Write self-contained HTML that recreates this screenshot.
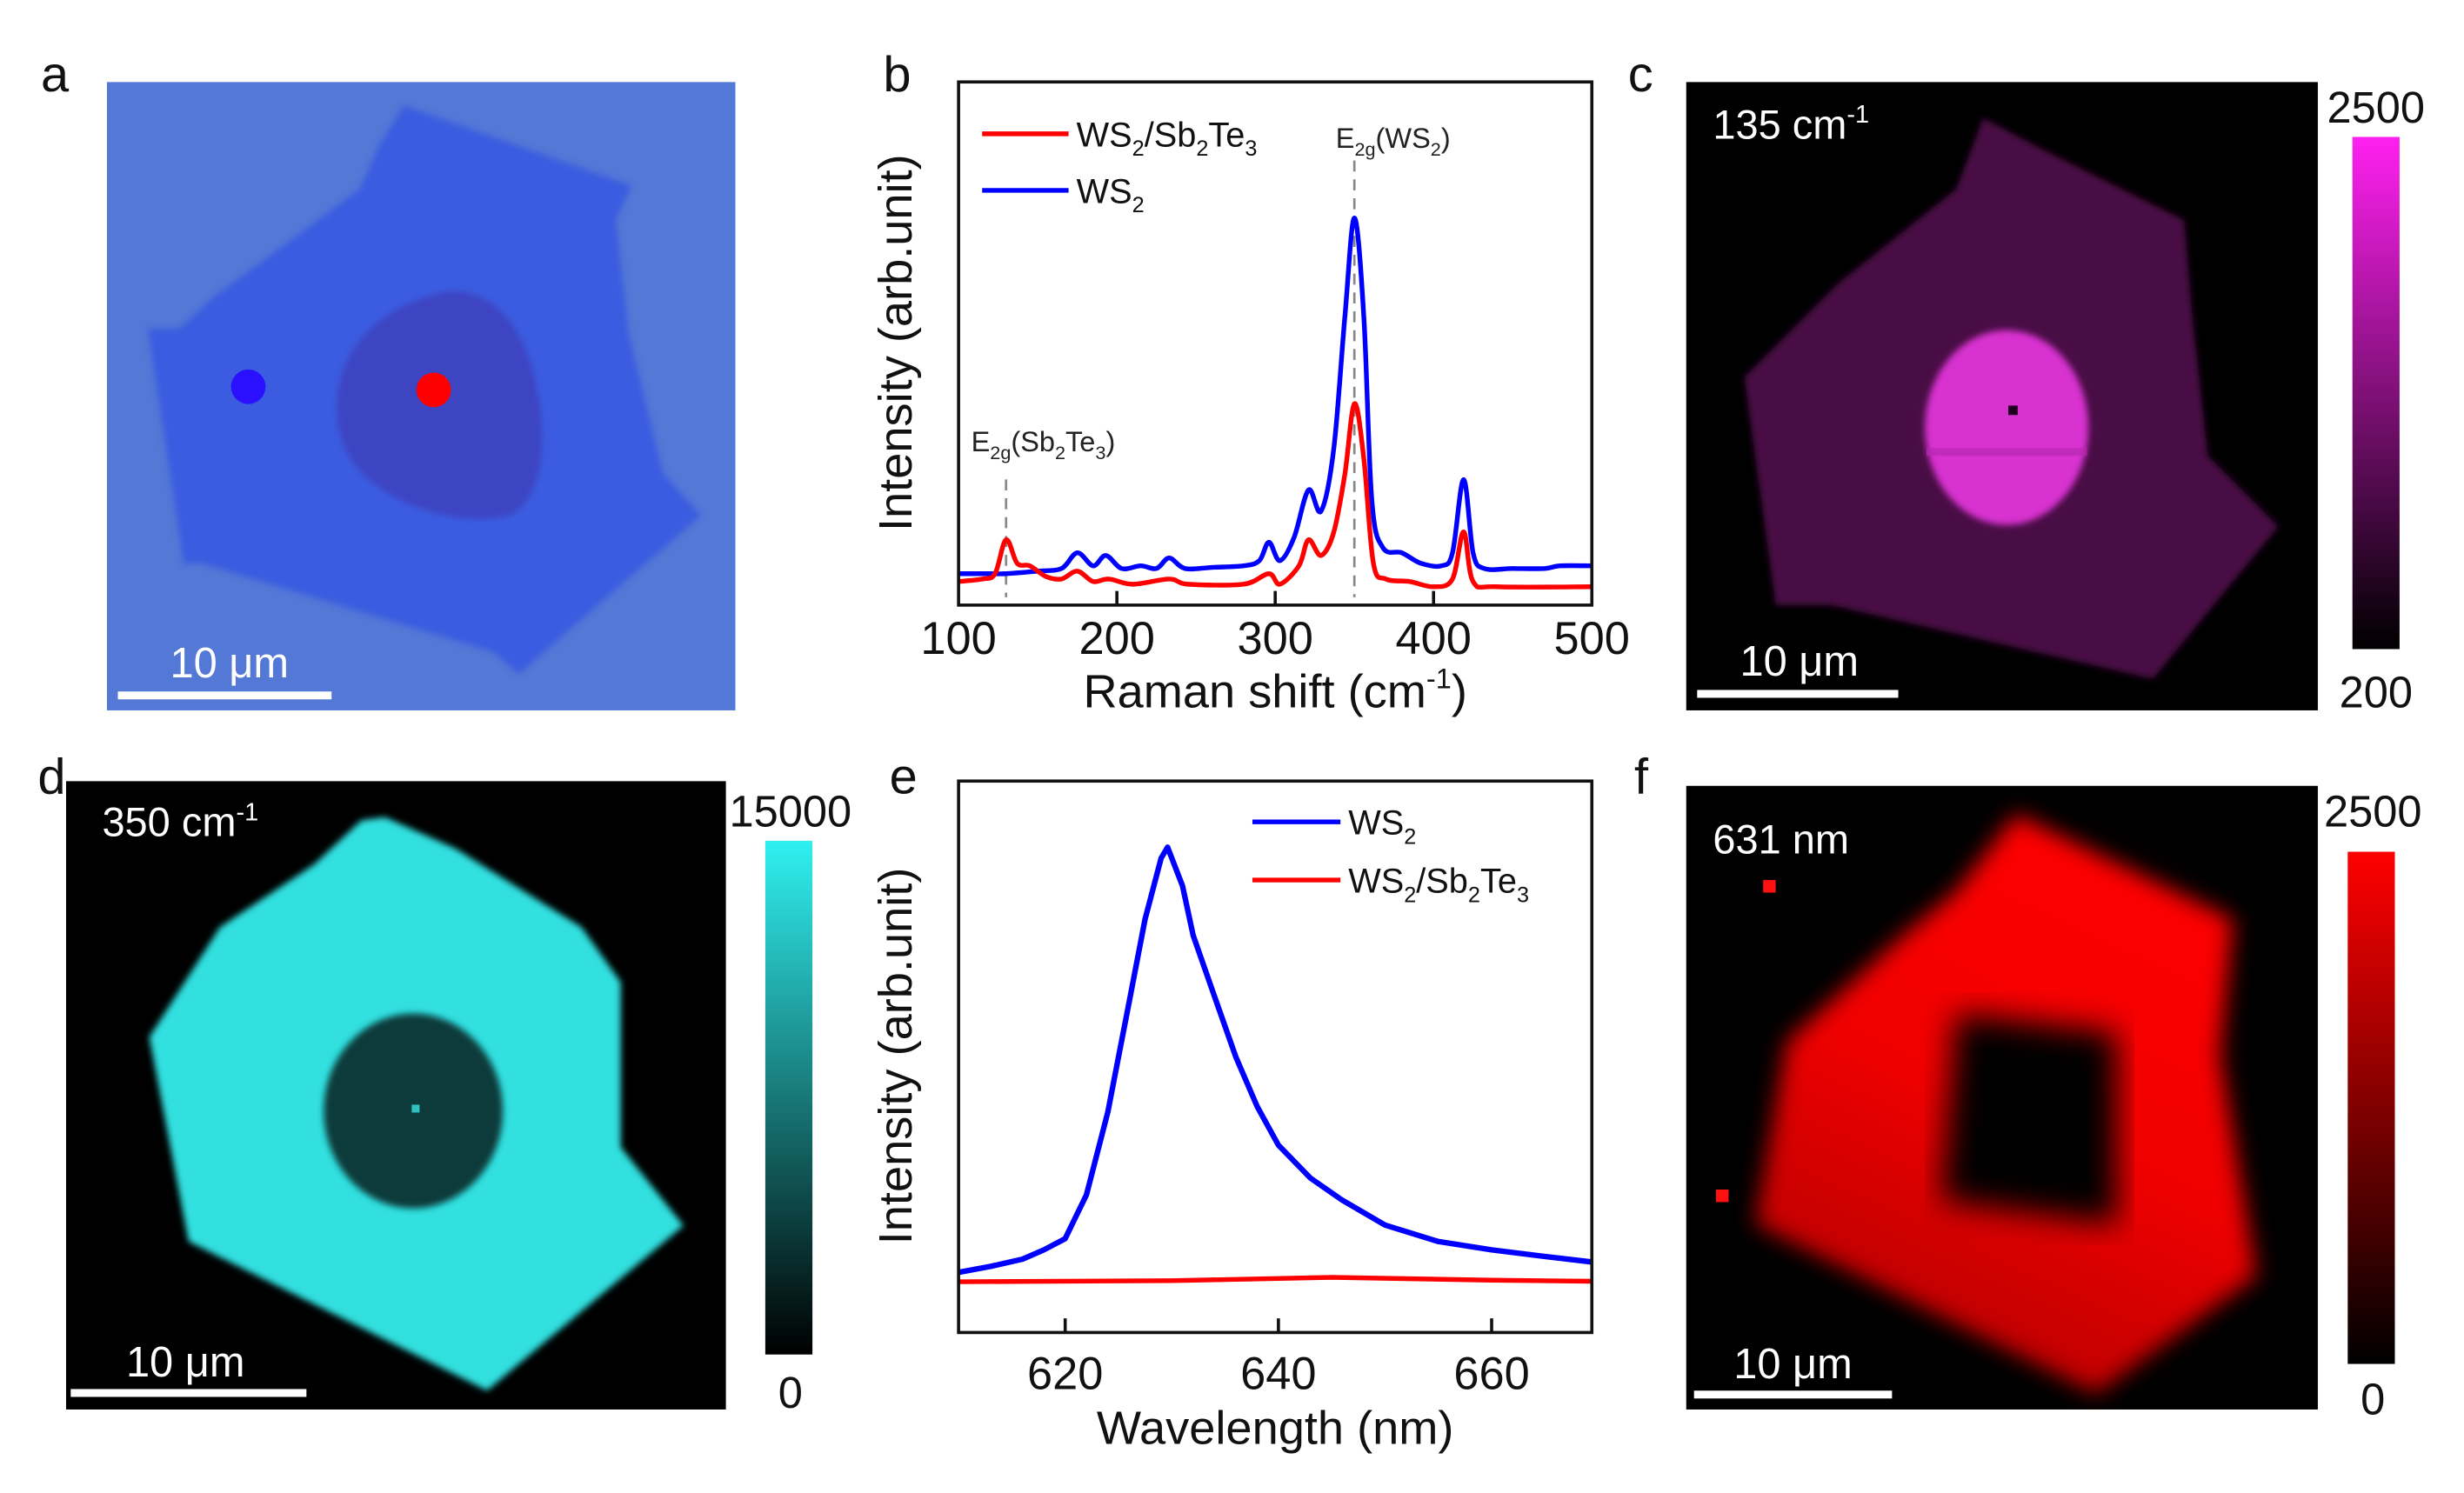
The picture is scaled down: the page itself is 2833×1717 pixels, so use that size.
<!DOCTYPE html>
<html><head><meta charset="utf-8"><style>
html,body{margin:0;padding:0;background:#fff;}
svg{display:block;font-family:"Liberation Sans",Arial,sans-serif;}
</style></head><body>
<svg id="fig" width="2833" height="1717" viewBox="0 0 1568 950" xmlns="http://www.w3.org/2000/svg">
<defs>
<filter id="blur2"><feGaussianBlur stdDeviation="2"/></filter>
<filter id="blur6"><feGaussianBlur stdDeviation="7"/></filter>
<filter id="blur10"><feGaussianBlur stdDeviation="10"/></filter>
<linearGradient id="cbMag" x1="0" y1="0" x2="0" y2="1"><stop offset="0" stop-color="#ff20f0"/><stop offset="1" stop-color="#000"/></linearGradient>
<linearGradient id="cbCyan" x1="0" y1="0" x2="0" y2="1"><stop offset="0" stop-color="#30f0f0"/><stop offset="1" stop-color="#000"/></linearGradient>
<linearGradient id="cbRed" x1="0" y1="0" x2="0" y2="1"><stop offset="0" stop-color="#ff0000"/><stop offset="1" stop-color="#000"/></linearGradient>
<linearGradient id="fRed" x1="0.7" y1="0" x2="0.3" y2="1"><stop offset="0" stop-color="#ff0000"/><stop offset="0.5" stop-color="#f00000"/><stop offset="1" stop-color="#b00000"/></linearGradient>
<clipPath id="clipA"><rect x="68" y="52" width="400" height="400"/></clipPath>
<clipPath id="clipC"><rect x="1073" y="52" width="402" height="400"/></clipPath>
<clipPath id="clipD"><rect x="42" y="497" width="420" height="400"/></clipPath>
<clipPath id="clipF"><rect x="1073" y="500" width="402" height="397"/></clipPath>
</defs>

<g font-size="32" fill="#111">
<text x="26" y="58">a</text>
<text x="562" y="58">b</text>
<text x="1036" y="58">c</text>
<text x="24" y="505">d</text>
<text x="566" y="505">e</text>
<text x="1040" y="505">f</text>
</g>

<g clip-path="url(#clipA)">
<rect x="68" y="52" width="400" height="400" fill="#5378d6"/>
<polygon filter="url(#blur2)" fill="#3b5ce0" points="257,67 402,118 392,140 400,212 422,301 446,328 330,429 314,415 127,358 117,359 94,209 114,209 137,188 178,158 229,120 241,93"/>
<path filter="url(#blur2)" fill="#3c44c2" d="M286,185 C320,185 338,215 344,262 C348,300 338,322 324,328 C290,336 240,320 222,290 C205,260 212,200 286,185 Z"/>
<circle cx="158" cy="246" r="11" fill="#2a10ff"/>
<circle cx="276" cy="248" r="11" fill="#ff0000"/>
<rect x="75" y="440" width="136" height="5" fill="#fff"/>
<text x="146" y="431" font-size="27" fill="#fff" text-anchor="middle">10 μm</text>
</g>

<g clip-path="url(#clipC)">
<rect x="1073" y="52" width="402" height="400" fill="#000"/>
<polygon fill="#480c45" filter="url(#blur2)" points="1262,75 1300,95 1390,140 1395,200 1405,290 1450,335 1370,432 1165,385 1130,385 1110,240 1170,180 1245,120"/>
<ellipse cx="1277" cy="272" rx="52" ry="62" fill="#d830d0" filter="url(#blur2)"/>
<rect x="1226" y="285" width="102" height="5" fill="#b828b0" opacity="0.7"/>
<rect x="1278" y="258" width="6" height="6" fill="#200020"/>
<text x="1090" y="88" font-size="26" fill="#fff">135 cm<tspan font-size="16" dy="-10">-1</tspan></text>
<rect x="1080" y="439" width="128" height="5" fill="#fff"/>
<text x="1145" y="430" font-size="27" fill="#fff" text-anchor="middle">10 μm</text>
</g>
<rect x="1497" y="87" width="30" height="326" fill="url(#cbMag)"/>
<text x="1512" y="78" font-size="28" text-anchor="middle" fill="#111">2500</text>
<text x="1512" y="450" font-size="28" text-anchor="middle" fill="#111">200</text>

<g clip-path="url(#clipD)">
<rect x="42" y="497" width="420" height="400" fill="#000"/>
<polygon fill="#30e0e0" filter="url(#blur2)" points="245,520 290,540 370,590 395,625 395,730 435,780 310,885 280,870 120,790 95,660 140,590 200,550 230,522"/>
<ellipse cx="263" cy="707" rx="57" ry="62" fill="#0a3a3a" filter="url(#blur2)"/>
<rect x="262" y="703" width="5" height="5" fill="#30c0c0"/>
<text x="65" y="532" font-size="26" fill="#fff">350 cm<tspan font-size="16" dy="-10">-1</tspan></text>
<rect x="45" y="884" width="150" height="5" fill="#fff"/>
<text x="118" y="876" font-size="27" fill="#fff" text-anchor="middle">10 μm</text>
</g>
<rect x="487" y="535" width="30" height="327" fill="url(#cbCyan)"/>
<text x="503" y="526" font-size="28" text-anchor="middle" fill="#111">15000</text>
<text x="503" y="896" font-size="28" text-anchor="middle" fill="#111">0</text>

<g clip-path="url(#clipF)">
<rect x="1073" y="500" width="402" height="397" fill="#000"/>
<polygon fill="url(#fRed)" filter="url(#blur6)" points="1283,518 1421,585 1413,672 1436,812 1334,887 1117,779 1137,663 1209,597 1245,567"/>
<polygon fill="#000" filter="url(#blur10)" points="1245,645 1347,657 1347,779 1236,764"/>
<rect x="1122" y="560" width="8" height="8" fill="#ff1010"/>
<rect x="1092" y="757" width="8" height="8" fill="#ff1010"/>
<text x="1090" y="543" font-size="26" fill="#fff">631 nm</text>
<rect x="1078" y="885" width="126" height="5" fill="#fff"/>
<text x="1141" y="877" font-size="27" fill="#fff" text-anchor="middle">10 μm</text>
</g>
<rect x="1494" y="542" width="30" height="326" fill="url(#cbRed)"/>
<text x="1510" y="526" font-size="28" text-anchor="middle" fill="#111">2500</text>
<text x="1510" y="900" font-size="28" text-anchor="middle" fill="#111">0</text>

<g id="chartB"></g>
<g id="chartE"></g>
</svg>
<script>
// Raman spectra (panel b)
const ramanX = [100,120,130,150,165,175,185,193,203,215,225,233,243,260,280,290,296,303,312,321,329,337,344,350,356,361,368,380,392,405,412,419,425,432,450,470,480,500];
const ramanWS2 = [.06,.06,.06,.065,.07,.1,.075,.095,.07,.075,.07,.09,.07,.072,.075,.085,.12,.085,.13,.22,.18,.3,.55,.74,.55,.2,.11,.1,.08,.075,.1,.24,.1,.07,.07,.07,.075,.075];
const ramanHetX = [100,115,123,130,137,145,155,165,175,185,195,210,233,245,280,296,303,315,321,329,337,344,350,356,362,370,385,400,412,419,425,440,500];
const ramanHet = [.045,.05,.06,.125,.08,.075,.055,.05,.065,.045,.05,.04,.05,.04,.04,.06,.04,.075,.125,.095,.14,.25,.385,.28,.08,.05,.045,.035,.05,.14,.045,.035,.035];
const ramanTicks = [100,200,300,400,500];
// PL spectra (panel e)
const plX = [610,613,616,618,620,622,624,625,626,627.5,629,629.6,631,632,634,636,638,640,643,646,650,655,660,665,669.4];
const plWS2 = [.109,.12,.133,.15,.17,.25,.40,.5,.6,.75,.86,.88,.81,.72,.61,.5,.41,.34,.28,.24,.195,.165,.15,.138,.128];
const plHetX = [610,630,645,660,669.4];
const plHet = [.092,.094,.1,.095,.093];
const plTicks = [620,640,660];

const NS = 'http://www.w3.org/2000/svg';
function mk(parent, tag, attrs, txt){const e=document.createElementNS(NS,tag);for(const k in attrs)e.setAttribute(k,attrs[k]);if(txt!==undefined)e.textContent=txt;parent.appendChild(e);return e;}
function smoothPath(pts){let d='M'+pts[0][0].toFixed(1)+','+pts[0][1].toFixed(1);for(let i=0;i<pts.length-1;i++){const p0=pts[Math.max(0,i-1)],p1=pts[i],p2=pts[i+1],p3=pts[Math.min(pts.length-1,i+2)];const c1x=p1[0]+(p2[0]-p0[0])/6,c1y=p1[1]+(p2[1]-p0[1])/6,c2x=p2[0]-(p3[0]-p1[0])/6,c2y=p2[1]-(p3[1]-p1[1])/6;d+=' C'+c1x.toFixed(1)+','+c1y.toFixed(1)+' '+c2x.toFixed(1)+','+c2y.toFixed(1)+' '+p2[0].toFixed(1)+','+p2[1].toFixed(1);}return d;}

(function(){
const g=document.getElementById('chartB');
const L=610,R=1013,T=52,B=385;
const sx=v=>L+(v-100)/400*(R-L), sy=v=>B-v*(B-T);
let dl=mk(g,'line',{x1:sx(350),x2:sx(350),y1:102,y2:380,stroke:'#888','stroke-width':1.5,'stroke-dasharray':'7,5'});

let dl2=mk(g,'line',{x1:sx(130),x2:sx(130),y1:305,y2:380,stroke:'#888','stroke-width':1.5,'stroke-dasharray':'7,5'});

let pb=mk(g,'path',{d:smoothPath(ramanWS2.map((v,i)=>[sx(ramanX[i]),sy(v)])),fill:'none',stroke:'#0000ff','stroke-width':3,'stroke-linejoin':'round'});

let pr=mk(g,'path',{d:smoothPath(ramanHet.map((v,i)=>[sx(ramanHetX[i]),sy(v)])),fill:'none',stroke:'#ff0000','stroke-width':3,'stroke-linejoin':'round'});

let fr=mk(g,'rect',{x:L,y:T,width:R-L,height:B-T,fill:'none',stroke:'#111','stroke-width':2});

ramanTicks.forEach(t=>{
 if(t>100&&t<500){const tk=mk(g,'line',{x1:sx(t),x2:sx(t),y1:B,y2:B-9,stroke:'#111','stroke-width':2});}
 const tl=mk(g,'text',{x:sx(t),y:416,'font-size':29,'text-anchor':'middle',fill:'#111'},String(t));
 
});
const xt=mk(g,'text',{x:(L+R)/2,y:450,'font-size':30,'text-anchor':'middle',fill:'#111'});

xt.innerHTML='Raman shift (cm<tspan font-size="18" dy="-12">-1</tspan><tspan dy="12">)</tspan>';
const yt=mk(g,'text',{x:0,y:0,'font-size':30,'text-anchor':'middle',fill:'#111',transform:'translate(580,218) rotate(-90)'},'Intensity (arb.unit)');

const l1=mk(g,'line',{x1:625,x2:680,y1:85,y2:85,stroke:'#ff0000','stroke-width':3});

const t1=mk(g,'text',{x:685,y:93,'font-size':22,fill:'#111'});

t1.innerHTML='WS<tspan font-size="14" dy="6">2</tspan><tspan dy="-6">/Sb</tspan><tspan font-size="14" dy="6">2</tspan><tspan dy="-6">Te</tspan><tspan font-size="14" dy="6">3</tspan>';
const l2=mk(g,'line',{x1:625,x2:680,y1:121,y2:121,stroke:'#0000ff','stroke-width':3});

const t2=mk(g,'text',{x:685,y:129,'font-size':22,fill:'#111'});

t2.innerHTML='WS<tspan font-size="14" dy="6">2</tspan>';
const a1=mk(g,'text',{x:850,y:94,'font-size':18,fill:'#222'});

a1.innerHTML='E<tspan font-size="12" dy="5">2g</tspan><tspan dy="-5">(WS</tspan><tspan font-size="12" dy="5">2</tspan><tspan dy="-5">)</tspan>';
const a2=mk(g,'text',{x:618,y:287,'font-size':18,fill:'#222'});

a2.innerHTML='E<tspan font-size="12" dy="5">2g</tspan><tspan dy="-5">(Sb</tspan><tspan font-size="12" dy="5">2</tspan><tspan dy="-5">Te</tspan><tspan font-size="12" dy="5">3</tspan><tspan dy="-5">)</tspan>';
})();

(function(){
const g=document.getElementById('chartE');
const L=610,R=1013,T=497,B=848;
const sx=v=>L+(v-610)/59.4*(R-L), sy=v=>B-v*(B-T);
let pb=mk(g,'polyline',{points:plWS2.map((v,i)=>sx(plX[i]).toFixed(1)+','+sy(v).toFixed(1)).join(' '),fill:'none',stroke:'#0000ff','stroke-width':3.5,'stroke-linejoin':'round'});

let pr=mk(g,'polyline',{points:plHet.map((v,i)=>sx(plHetX[i]).toFixed(1)+','+sy(v).toFixed(1)).join(' '),fill:'none',stroke:'#ff0000','stroke-width':3});

let fr=mk(g,'rect',{x:L,y:T,width:R-L,height:B-T,fill:'none',stroke:'#111','stroke-width':2});

plTicks.forEach(t=>{
 const tk=mk(g,'line',{x1:sx(t),x2:sx(t),y1:B,y2:B-9,stroke:'#111','stroke-width':2});
 
 const tl=mk(g,'text',{x:sx(t),y:884,'font-size':29,'text-anchor':'middle',fill:'#111'},String(t));
 
});
const xt=mk(g,'text',{x:(L+R)/2,y:919,'font-size':30,'text-anchor':'middle',fill:'#111'},'Wavelength (nm)');

const yt=mk(g,'text',{x:0,y:0,'font-size':30,'text-anchor':'middle',fill:'#111',transform:'translate(580,672) rotate(-90)'},'Intensity (arb.unit)');

const l1=mk(g,'line',{x1:797,x2:853,y1:523,y2:523,stroke:'#0000ff','stroke-width':3});

const t1=mk(g,'text',{x:858,y:531,'font-size':22,fill:'#111'});

t1.innerHTML='WS<tspan font-size="14" dy="6">2</tspan>';
const l2=mk(g,'line',{x1:797,x2:853,y1:560,y2:560,stroke:'#ff0000','stroke-width':3});

const t2=mk(g,'text',{x:858,y:568,'font-size':22,fill:'#111'});

t2.innerHTML='WS<tspan font-size="14" dy="6">2</tspan><tspan dy="-6">/Sb</tspan><tspan font-size="14" dy="6">2</tspan><tspan dy="-6">Te</tspan><tspan font-size="14" dy="6">3</tspan>';
})();
</script>
</body></html>
